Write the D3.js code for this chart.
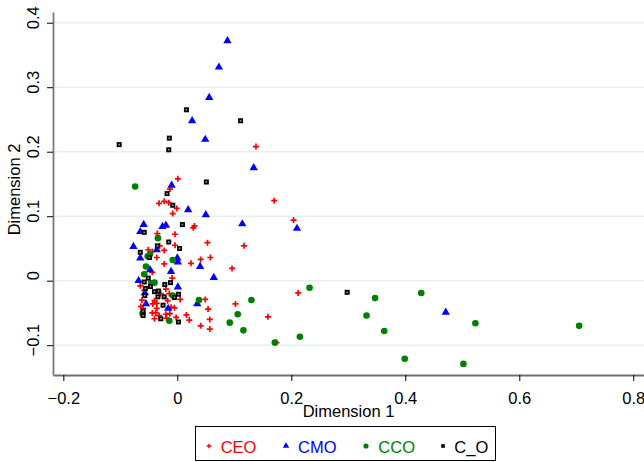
<!DOCTYPE html>
<html>
<head>
<meta charset="utf-8">
<script src="https://cdn.jsdelivr.net/npm/d3@7"></script>
<style>
  body { margin: 0; background: #fff; }
  text { font-family: "Liberation Sans", Arial, sans-serif; }
</style>
</head>
<body>
<div id="scatter"></div>
<script>
// Series values, [dimension 1, dimension 2]
var ceoPoints = [
  [0.001, 0.158], [-0.013, 0.142], [-0.023, 0.123], [-0.032, 0.120], [-0.015, 0.121],
  [-0.001, 0.112], [-0.008, 0.104], [0.138, 0.208], [0.170, 0.124], [0.030, 0.085],
  [0.028, 0.082], [0.204, 0.094], [-0.035, 0.073], [-0.004, 0.072], [0.053, 0.059],
  [0.117, 0.054], [-0.031, 0.054], [-0.004, 0.055], [-0.051, 0.048], [-0.023, 0.047],
  [-0.044, 0.045], [-0.036, 0.036], [0.058, 0.036], [0.041, 0.033], [0.024, 0.027],
  [-0.023, 0.026], [0.096, 0.019], [-0.044, 0.013], [-0.009, 0.004], [-0.065, -0.008],
  [-0.020, -0.013], [-0.058, -0.015], [-0.029, -0.020], [-0.014, -0.020], [-0.062, -0.030],
  [-0.040, -0.031], [-0.036, -0.035], [0.005, -0.029], [0.049, -0.029], [-0.017, -0.031],
  [-0.043, -0.036], [0.102, -0.036], [-0.064, -0.040], [-0.060, -0.043], [-0.036, -0.043],
  [-0.011, -0.041], [-0.005, -0.042], [0.054, -0.044], [-0.044, -0.050], [-0.038, -0.050],
  [-0.020, -0.052], [-0.032, -0.054], [-0.013, -0.051], [0.016, -0.053], [-0.019, -0.058],
  [-0.040, -0.059], [-0.002, -0.057], [0.021, -0.061], [0.057, -0.060], [0.041, -0.070],
  [0.057, -0.075], [0.212, -0.019], [0.159, -0.056], [0.174, -0.096]
];
var cmoPoints = [
  [0.088, 0.372], [0.073, 0.331], [0.056, 0.284], [0.026, 0.248], [0.049, 0.219],
  [0.134, 0.175], [-0.010, 0.148], [0.019, 0.110], [0.050, 0.102], [0.114, 0.088],
  [0.210, 0.081], [-0.059, 0.087], [-0.065, 0.076], [-0.026, 0.084], [-0.020, 0.086],
  [-0.077, 0.053], [-0.065, 0.035], [-0.036, 0.048], [0.000, 0.035], [0.001, 0.029],
  [0.040, 0.022], [-0.048, 0.017], [-0.011, 0.014], [0.064, 0.005], [-0.068, 0.000],
  [0.001, -0.010], [-0.057, -0.019], [-0.055, -0.036], [0.035, -0.036], [-0.016, -0.043],
  [0.471, -0.049]
];
var ccoPoints = [
  [-0.074, 0.146], [-0.034, 0.066], [-0.048, 0.041], [-0.052, 0.038], [-0.008, 0.032],
  [-0.055, 0.022], [-0.058, 0.010], [-0.046, -0.004], [-0.040, -0.003], [-0.008, -0.023],
  [0.038, -0.030], [0.130, -0.030], [-0.061, -0.051], [-0.014, -0.062], [0.106, -0.052],
  [0.092, -0.065], [0.116, -0.077], [0.171, -0.096], [0.215, -0.087], [0.232, -0.011],
  [0.347, -0.027], [0.428, -0.019], [0.332, -0.054], [0.363, -0.078], [0.523, -0.066],
  [0.705, -0.070], [0.399, -0.121], [0.502, -0.129]
];
var coPoints = [
  [-0.102, 0.211], [0.016, 0.265], [-0.014, 0.221], [-0.015, 0.203], [0.111, 0.248],
  [0.051, 0.153], [-0.018, 0.135], [-0.008, 0.117], [0.009, 0.087], [-0.058, 0.075],
  [-0.015, 0.060], [-0.035, 0.054], [0.004, 0.050], [-0.065, 0.044], [-0.049, 0.036],
  [-0.051, 0.004], [-0.058, -0.002], [-0.012, -0.003], [-0.022, -0.006], [-0.047, -0.009],
  [-0.056, -0.012], [-0.040, -0.017], [-0.033, -0.016], [-0.023, -0.025], [-0.034, -0.025],
  [0.002, -0.021], [-0.005, -0.026], [-0.057, -0.023], [-0.025, -0.038], [-0.060, -0.047],
  [-0.060, -0.054], [-0.029, -0.059], [0.002, -0.064], [0.298, -0.018]
];

// Tick values and legend
var xTicks = [-0.2, 0, 0.2, 0.4, 0.6, 0.8];
var yTicks = [-0.1, 0, 0.1, 0.2, 0.3, 0.4];
var seriesNames = ["CEO", "CMO", "CCO", "C_O"];
var seriesColors = ["#ff0000", "#0000ff", "#008000", "#000000"];

var width = 644;
var height = 462;

// Plot region edges
var plotLeft = 53;
var plotRight = 644;
var plotTop = 12;
var plotBottom = 375;

var svg = d3
  .select("#scatter")
  .append("svg")
  .attr("width", width)
  .attr("height", height);

var xScale = d3
  .scaleLinear()
  .domain([-0.2181, 0.8188])
  .range([plotLeft, plotRight]);
var yScale = d3
  .scaleLinear()
  .domain([-0.1462, 0.4166])
  .range([plotBottom, plotTop]);

var fmt = function(d) {
  return d === 0 ? "0" : d3.format(".1f")(d);
};

// Horizontal grid lines
svg
  .append("g")
  .selectAll("line")
  .data(yTicks)
  .enter()
  .append("line")
  .attr("x1", plotLeft)
  .attr("x2", plotRight)
  .attr("y1", function(d) { return yScale(d); })
  .attr("y2", function(d) { return yScale(d); })
  .style("stroke", "#e6eff1")
  .style("stroke-width", 1.5);

// X axis
var xAxis = d3.axisBottom(xScale).tickValues(xTicks).tickSize(6).tickSizeOuter(0).tickFormat(fmt);
var gx = svg
  .append("g")
  .attr("transform", "translate(0," + plotBottom + ")")
  .call(xAxis);
gx.select(".domain").style("stroke", "#6f6f6f").style("stroke-width", 1.8);
gx.selectAll(".tick line").style("stroke", "#000");
gx.selectAll(".tick text")
  .attr("y", 29)
  .attr("dy", null)
  .style("font-size", "16.5px")
  .style("font-family", "Liberation Sans, Arial, sans-serif")
  .style("fill", "#000");

// Y axis
var yAxis = d3.axisLeft(yScale).tickValues(yTicks).tickSize(6).tickSizeOuter(0).tickFormat("");
var gy = svg
  .append("g")
  .attr("transform", "translate(" + plotLeft + ",0)")
  .call(yAxis);
gy.select(".domain").style("stroke", "#7a7a7a").style("stroke-width", 1.8);
gy.selectAll(".tick line").style("stroke", "#000");

// Rotated y tick labels
svg
  .append("g")
  .selectAll("text")
  .data(yTicks)
  .enter()
  .append("text")
  .attr("transform", function(d) {
    return "translate(39.3," + (yScale(d) - 5) + ")rotate(-90)";
  })
  .attr("text-anchor", "middle")
  .style("font-size", "16.5px")
  .text(fmt);

// Axis titles
svg
  .append("text")
  .attr("x", (plotLeft + plotRight) / 2)
  .attr("y", 417.3)
  .attr("text-anchor", "middle")
  .style("font-size", "16.5px")
  .text("Dimension 1");
svg
  .append("text")
  .attr("transform", "translate(20," + ((plotTop + plotBottom) / 2 - 4) + ")rotate(-90)")
  .attr("text-anchor", "middle")
  .style("font-size", "16.5px")
  .text("Dimension 2");

// Marker drawing helpers
function drawPlus(g, color, h, w) {
  g.append("path")
    .attr("d", "M" + (-h) + ",0H" + h + "M0," + (-h) + "V" + h)
    .style("stroke", color)
    .style("stroke-width", w)
    .style("fill", "none");
}
function drawTriangle(g, color, size) {
  g.append("path")
    .attr("d", d3.symbol().type(d3.symbolTriangle).size(size)())
    .style("fill", color);
}
function drawCircle(g, color, r) {
  g.append("circle").attr("r", r).style("fill", color);
}
function drawSquare(g, color, s, hollow) {
  g.append("rect")
    .attr("x", -s / 2)
    .attr("y", -s / 2)
    .attr("width", s)
    .attr("height", s)
    .style("fill", hollow ? "#9a9a9a" : color)
    .style("stroke", color)
    .style("stroke-width", hollow ? 1.7 : 0);
}

var plot = svg.append("g");

function addSeries(points, draw) {
  plot
    .append("g")
    .selectAll("g")
    .data(points)
    .enter()
    .append("g")
    .attr("transform", function(d) {
      return "translate(" + xScale(d[0]) + "," + yScale(d[1]) + ")";
    })
    .each(function() {
      draw(d3.select(this));
    });
}

addSeries(ceoPoints, function(g) { drawPlus(g, seriesColors[0], 3, 1.7); });
addSeries(cmoPoints, function(g) { drawTriangle(g, seriesColors[1], 30); });
addSeries(ccoPoints, function(g) { drawCircle(g, seriesColors[2], 3.3); });
addSeries(coPoints, function(g) { drawSquare(g, seriesColors[3], 3.3, true); });

// Legend box
var legend = svg.append("g");
legend
  .append("rect")
  .attr("x", 195.5)
  .attr("y", 426.5)
  .attr("width", 300)
  .attr("height", 34)
  .style("fill", "#fff")
  .style("stroke", "#000")
  .style("stroke-width", 1);

var symX = [209, 286, 366, 443];
var textX = [220.7, 298, 378.3, 454.3];
seriesNames.forEach(function(name, i) {
  var g = legend.append("g").attr("transform", "translate(" + symX[i] + ",446)");
  if (i === 0) drawPlus(g, seriesColors[0], 2.3, 1.4);
  if (i === 1) drawTriangle(g, seriesColors[1], 18);
  if (i === 2) drawCircle(g, seriesColors[2], 2.6);
  if (i === 3) drawSquare(g, seriesColors[3], 3.6, false);
  legend
    .append("text")
    .attr("x", textX[i])
    .attr("y", 452.7)
    .style("font-size", "16.5px")
    .style("fill", seriesColors[i])
    .text(name);
});
</script>
</body>
</html>
